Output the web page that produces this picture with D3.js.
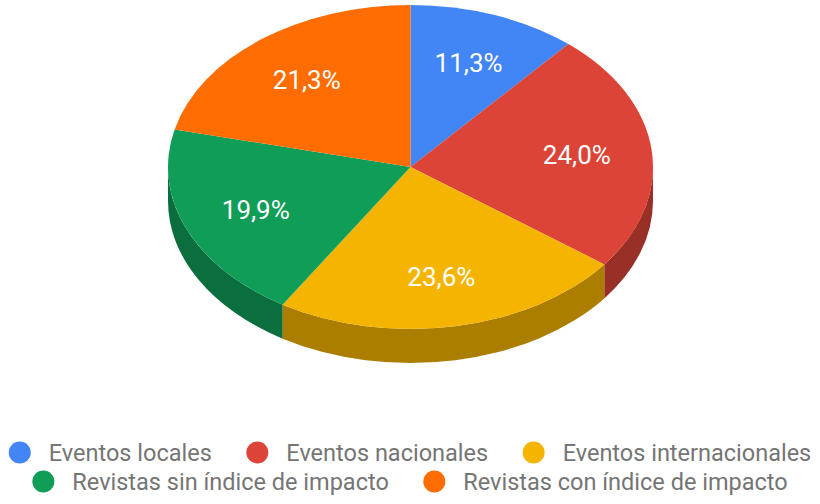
<!DOCTYPE html>
<html>
<head>
<meta charset="utf-8">
<script src="https://cdn.jsdelivr.net/npm/d3@7"></script>
<style>
  html, body { margin: 0; padding: 0; background: #fff; }
  svg { display: block; font-family: Roboto, "Noto Sans", sans-serif; }
</style>
</head>
<body>
<svg id="chart" width="820" height="504"></svg>
<script>
// Distribución de publicaciones por tipo
const categories = [
  "Eventos locales",
  "Eventos nacionales",
  "Eventos internacionales",
  "Revistas sin índice de impacto",
  "Revistas con índice de impacto"
];
const values = [11.3, 24.0, 23.6, 19.9, 21.3];
const topColors = ["#4285F4", "#DB4437", "#F4B400", "#0F9D58", "#FF6D00"];
const legendRows = [[0, 1, 2], [3, 4]];

const svg = d3.select("#chart");
const W = 820;

// Ellipse geometry of the tilted pie
const cx = 410.5, cy = 167, rx = 242.5, ry = 162, depth = 34;
const labelFrac = 0.69;

const pt = (a, dy = 0) => [cx + rx * Math.sin(a), cy - ry * Math.cos(a) + dy];
const shade = c => d3.color(c).darker(1).formatHex();

const data = categories.map((name, i) => ({ name, value: values[i], color: topColors[i] }));
const arcs = d3.pie().sort(null).value(d => d.value)(data);

// Side wall (only the front half of the rim is visible)
const wallLayer = svg.append("g");
arcs.forEach(a => {
  const w0 = Math.max(a.startAngle, Math.PI / 2);
  const w1 = Math.min(a.endAngle, 3 * Math.PI / 2);
  if (w0 >= w1) return;
  const p0 = pt(w0), p1 = pt(w1), q1 = pt(w1, depth), q0 = pt(w0, depth);
  const d = `M${p0}A${rx},${ry} 0 0 1 ${p1}L${q1}A${rx},${ry} 0 0 0 ${q0}Z`;
  wallLayer.append("path").attr("d", d).attr("fill", shade(a.data.color));
});

// Top face
const faceLayer = svg.append("g");
arcs.forEach(a => {
  const p0 = pt(a.startAngle), p1 = pt(a.endAngle);
  const large = (a.endAngle - a.startAngle) > Math.PI ? 1 : 0;
  const d = `M${cx},${cy}L${p0}A${rx},${ry} 0 ${large} 1 ${p1}Z`;
  faceLayer.append("path").attr("d", d).attr("fill", a.data.color);
});

// Percentage labels
const fmt = v => v.toFixed(1).replace(".", ",") + "%";
svg.append("g").selectAll("text").data(arcs).join("text")
  .attr("x", a => cx + rx * labelFrac * Math.sin((a.startAngle + a.endAngle) / 2))
  .attr("y", a => cy - ry * labelFrac * Math.cos((a.startAngle + a.endAngle) / 2))
  .attr("dy", "0.36em")
  .attr("text-anchor", "middle")
  .attr("fill", "#fff")
  .style("font-size", "26px")
  .text(a => fmt(a.data.value));

// Legend, two centred rows
const legendLayer = svg.append("g");
const rowY = [452.5, 481.5];
const r = 11, textGap = 29, itemGap = 45.5;
legendRows.forEach((row, ri) => {
  const g = legendLayer.append("g");
  let x = 0;
  row.forEach(i => {
    g.append("circle").attr("cx", x).attr("cy", rowY[ri]).attr("r", r).attr("fill", topColors[i]);
    const t = g.append("text")
      .attr("x", x + textGap).attr("y", rowY[ri])
      .attr("dy", "0.35em")
      .attr("fill", "#757575")
      .style("font-size", "23.5px")
      .text(categories[i]);
    x += textGap + t.node().getComputedTextLength() + itemGap;
  });
  const bb = g.node().getBBox();
  g.attr("transform", `translate(${W / 2 - (bb.x + bb.width / 2)},0)`);
});
</script>
</body>
</html>
